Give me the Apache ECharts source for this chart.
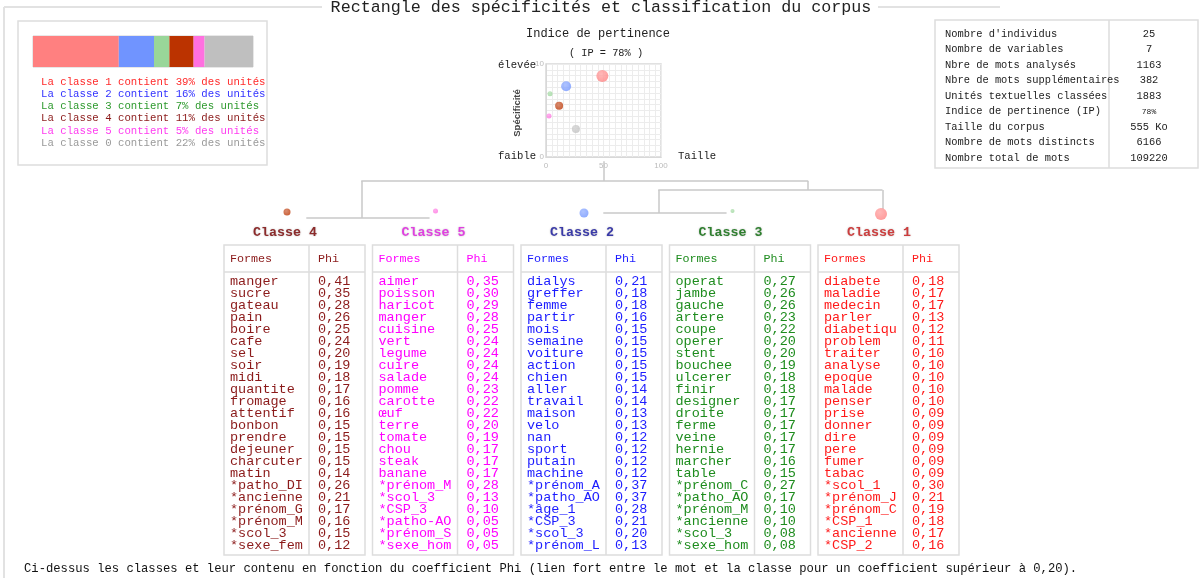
<!DOCTYPE html>
<html>
<head>
<meta charset="utf-8">
<script src="https://cdn.jsdelivr.net/npm/echarts@6/dist/echarts.min.js"></script>
<style>
  html, body { margin: 0; padding: 0; background: #fff; }
  #chart { width: 1202px; height: 578px; }
</style>
</head>
<body>
<div id="chart"></div>
<script>
const MONO = '"Liberation Mono", "Courier New", monospace';

// --- repartition des classes (barre en haut a gauche)
const barClasses = ['1', '2', '3', '4', '5', '0'];
const barPct = [39, 16, 7, 11, 5, 22];
const barColors = ['#ff8080', '#7094ff', '#99d699', '#bb3300', '#ff70e0', '#bfbfbf'];
const legendColors = ['#ff2a2a', '#3232ff', '#2e9a2e', '#8b1a1a', '#ff3cf0', '#9a9a9a'];

// --- indice de pertinence (taille / specificite)
const bubbleX = [49, 17.5, 3.5, 11.4, 2.6, 26];
const bubbleY = [8.7, 7.6, 6.8, 5.5, 4.4, 3.0];
const bubbleSize = [12, 10, 5, 8, 5, 8];
const ipValue = '78%';

// --- dendrogramme (ordre des feuilles)
const leafNames = ['Classe 4', 'Classe 5', 'Classe 2', 'Classe 3', 'Classe 1'];
const leafDotColors = ['#bb3300', '#ff70e0', '#7094ff', '#99d699', '#ff8080'];
const leafLabelColors = ['#8b2a2a', '#e040e0', '#3a3aa8', '#2f7f2f', '#cc3c3c'];
const leafTextColors = ['#8b1a1a', '#ff00ff', '#1c1cff', '#1e8c1e', '#ff1a1a'];
const leafDotSize = [7, 5, 9, 4, 12];
const leafDotLevel = [1.33, 1.5, 1.17, 1.5, 1.0];
// segments [x1, niveau1, x2, niveau2] en unites de feuille
const treeSegments = [
  [2.13, 9.8, 2.13, 6.5],
  [0.5, 6.5, 3.51, 6.5],
  [0.5, 6.5, 0.5, 0.33],
  [0.13, 0.33, 0.96, 0.33],
  [3.51, 6.5, 3.51, 5.0],
  [2.5, 5.0, 4.01, 5.0],
  [2.5, 5.0, 2.5, 1.17],
  [2.13, 1.17, 2.96, 1.17],
  [4.01, 5.0, 4.01, 1.83]
];

// --- contenu des classes (formes / phi)
const class4Words = ['manger','sucre','gateau','pain','boire','cafe','sel','soir','midi','quantite','fromage','attentif','bonbon','prendre','dejeuner','charcuter','matin','*patho_DI','*ancienne','*prénom_G','*prénom_M','*scol_3','*sexe_fem'];
const class4Phi = ['0,41','0,35','0,28','0,26','0,25','0,24','0,20','0,19','0,18','0,17','0,16','0,16','0,15','0,15','0,15','0,15','0,14','0,26','0,21','0,17','0,16','0,15','0,12'];
const class5Words = ['aimer','poisson','haricot','manger','cuisine','vert','legume','cuire','salade','pomme','carotte','œuf','terre','tomate','chou','steak','banane','*prénom_M','*scol_3','*CSP_3','*patho-AO','*prénom_S','*sexe_hom'];
const class5Phi = ['0,35','0,30','0,29','0,28','0,25','0,24','0,24','0,24','0,24','0,23','0,22','0,22','0,20','0,19','0,17','0,17','0,17','0,28','0,13','0,10','0,05','0,05','0,05'];
const class2Words = ['dialys','greffer','femme','partir','mois','semaine','voiture','action','chien','aller','travail','maison','velo','nan','sport','putain','machine','*prénom_A','*patho_AO','*âge_1','*CSP_3','*scol_3','*prénom_L'];
const class2Phi = ['0,21','0,18','0,18','0,16','0,15','0,15','0,15','0,15','0,15','0,14','0,14','0,13','0,13','0,12','0,12','0,12','0,12','0,37','0,37','0,28','0,21','0,20','0,13'];
const class3Words = ['operat','jambe','gauche','artere','coupe','operer','stent','bouchee','ulcerer','finir','designer','droite','ferme','veine','hernie','marcher','table','*prénom_C','*patho_AO','*prénom_M','*ancienne','*scol_3','*sexe_hom'];
const class3Phi = ['0,27','0,26','0,26','0,23','0,22','0,20','0,20','0,19','0,18','0,18','0,17','0,17','0,17','0,17','0,17','0,16','0,15','0,27','0,17','0,10','0,10','0,08','0,08'];
const class1Words = ['diabete','maladie','medecin','parler','diabetiqu','problem','traiter','analyse','epoque','malade','penser','prise','donner','dire','pere','fumer','tabac','*scol_1','*prénom_J','*prénom_C','*CSP_1','*ancienne','*CSP_2'];
const class1Phi = ['0,18','0,17','0,17','0,13','0,12','0,11','0,10','0,10','0,10','0,10','0,10','0,09','0,09','0,09','0,09','0,09','0,09','0,30','0,21','0,19','0,18','0,17','0,16'];
const tableWords = [class4Words, class5Words, class2Words, class3Words, class1Words];
const tablePhi = [class4Phi, class5Phi, class2Phi, class3Phi, class1Phi];

// --- informations sur le corpus
const infoLabels = ["Nombre d'individus", 'Nombre de variables', 'Nbre de mots analysés', 'Nbre de mots supplémentaires', 'Unités textuelles classées', 'Indice de pertinence (IP)', 'Taille du corpus', 'Nombre de mots distincts', 'Nombre total de mots'];
const infoValues = ['25', '7', '1163', '382', '1883', '78%', '555 Ko', '6166', '109220'];

const titleText = 'Rectangle des spécificités et classification du corpus';
const footText = 'Ci-dessus les classes et leur contenu en fonction du coefficient Phi (lien fort entre le mot et la classe pour un coefficient supérieur à 0,20).';

const leafX0 = 287, leafStep = 148.5;
const leafX = k => leafX0 + k * leafStep;

function txt(x, y, text, size, fill, align, extra) {
  const st = Object.assign({
    text: text,
    font: size + 'px ' + MONO,
    fill: fill,
    align: align || 'left', textAlign: align || 'left',
    verticalAlign: 'middle', textVerticalAlign: 'middle'
  }, extra || {});
  return { type: 'text', x: x, y: y, silent: true, style: st };
}
function line(x1, y1, x2, y2, color, w) {
  return { type: 'line', silent: true, shape: { x1, y1, x2, y2 }, style: { stroke: color || '#ddd', lineWidth: w || 1.5 } };
}
function box(x, y, w, h, color) {
  return { type: 'rect', silent: true, shape: { x, y, width: w, height: h }, style: { fill: 'none', stroke: color || '#ddd', lineWidth: 1.5 } };
}
function ball(c) {
  return {
    type: 'radial', x: 0.4, y: 0.35, r: 0.75,
    colorStops: [{ offset: 0, color: echarts.color.lift(c, 0.3) }, { offset: 1, color: c }]
  };
}

const graphics = [];
// cadre et titre
graphics.push(line(4, 7, 322, 7, '#e2e2e2', 2));
graphics.push(line(878, 7, 1000, 7, '#e2e2e2', 2));
graphics.push(line(4, 7, 4, 578, '#e2e2e2', 2));
graphics.push(txt(601, 8, titleText, 16.7, '#222', 'center'));

// boite en haut a gauche
graphics.push(box(18, 21, 249, 144));
barClasses.forEach((c, i) => {
  graphics.push(txt(41, 82 + i * 12.2, 'La classe ' + c + ' contient ' + barPct[i] + '% des unités', 10.7, legendColors[i], 'left'));
});

// textes autour du nuage
graphics.push(txt(598, 34, 'Indice de pertinence', 12, '#222', 'center'));
graphics.push(txt(606, 53, '( IP = ' + ipValue + ' )', 10.3, '#222', 'center'));
graphics.push(txt(498, 65, 'élevée', 10.6, '#222', 'left'));
graphics.push(txt(498, 156, 'faible', 10.6, '#222', 'left'));
graphics.push(txt(678, 156, 'Taille', 10.6, '#222', 'left'));
graphics.push({
  type: 'text', x: 517, y: 113, rotation: Math.PI / 2, silent: true,
  style: { text: 'Spécificité', font: 'bold 9.5px "Liberation Sans", sans-serif', fill: '#444',
    align: 'center', textAlign: 'center', verticalAlign: 'middle', textVerticalAlign: 'middle' }
});

// boite d'informations
graphics.push(box(935, 20, 263, 148));
graphics.push(line(1109, 20, 1109, 168));
infoLabels.forEach((lab, i) => {
  const y = 34 + i * 15.5;
  graphics.push(txt(945, y, lab, 10.4, '#222', 'left'));
  graphics.push(txt(1149, y, infoValues[i], infoValues[i].indexOf('%') >= 0 ? 8 : 10.4, '#222', 'center'));
});

// etiquettes de classe et tableaux
leafNames.forEach((name, k) => {
  const cx = leafX(k);
  graphics.push(txt(cx - 2, 233, name, 13.3, leafLabelColors[k], 'center', {
    font: 'bold 13.3px ' + MONO,
    textShadowColor: 'rgba(0,0,0,0.25)', textShadowBlur: 2
  }));
  const left = cx - 63;
  graphics.push(box(left, 245, 141, 310));
  graphics.push(line(left, 272, left + 141, 272));
  graphics.push(line(left + 85, 245, left + 85, 555));
  graphics.push(txt(left + 6, 259, 'Formes', 11.7, leafTextColors[k], 'left'));
  graphics.push(txt(left + 94, 259, 'Phi', 11.7, leafTextColors[k], 'left'));
  tableWords[k].forEach((w, r) => {
    const y = 281 + r * 12;
    graphics.push(txt(left + 6, y, w, 13.5, leafTextColors[k], 'left'));
    graphics.push(txt(left + 94, y, tablePhi[k][r], 13.5, leafTextColors[k], 'left'));
  });
});

graphics.push(txt(24, 569, footText, 12.2, '#111', 'left'));

const chart = echarts.init(document.getElementById('chart'), null, { renderer: 'canvas' });

const option = {
  backgroundColor: '#fff',
  animation: false,
  grid: [
    { left: 33, top: 36, width: 220, height: 31, show: true, borderColor: '#d0d0d0', borderWidth: 1, backgroundColor: 'transparent' },
    { left: 546, top: 64, width: 115, height: 93, show: true, borderColor: '#d8d8d8', borderWidth: 1.5, backgroundColor: 'transparent' },
    { left: leafX0 - leafStep / 2, top: 160, width: leafStep * 5, height: 60 }
  ],
  xAxis: [
    { gridIndex: 0, type: 'value', min: 0, max: 100, show: false },
    {
      gridIndex: 1, type: 'value', min: 0, max: 100, interval: 5,
      axisLine: { lineStyle: { color: '#d8d8d8' } }, axisTick: { show: false },
      splitLine: { lineStyle: { color: '#ececec' } },
      axisLabel: { fontSize: 8, color: '#bbb', margin: 5, formatter: v => (v % 50 === 0 ? String(v) : '') }
    },
    { gridIndex: 2, type: 'value', min: -0.5, max: 4.5, show: false }
  ],
  yAxis: [
    { gridIndex: 0, type: 'category', data: ['corpus'], show: false },
    {
      gridIndex: 1, type: 'value', min: 0, max: 10, interval: 0.625,
      axisLine: { show: true, lineStyle: { color: '#d8d8d8' } }, axisTick: { show: false },
      splitLine: { lineStyle: { color: '#ececec' } },
      axisLabel: { fontSize: 8, color: '#bbb', margin: 2, formatter: v => (v === 0 || v === 10 ? String(v) : '') }
    },
    { gridIndex: 2, type: 'value', min: 0, max: 10, show: false }
  ],
  series: [
    ...barClasses.map((c, i) => ({
      type: 'bar', name: 'classe ' + c, stack: 'corpus', xAxisIndex: 0, yAxisIndex: 0,
      barWidth: '100%', silent: true, data: [barPct[i]],
      itemStyle: { color: barColors[i] }
    })),
    {
      type: 'scatter', xAxisIndex: 1, yAxisIndex: 1, silent: true,
      data: bubbleX.map((x, i) => ({
        value: [x, bubbleY[i]], symbolSize: bubbleSize[i],
        itemStyle: { color: ball(barColors[i]) }
      }))
    },
    {
      type: 'lines', coordinateSystem: 'cartesian2d', xAxisIndex: 2, yAxisIndex: 2, silent: true,
      lineStyle: { color: '#c8c8c8', width: 1.5, opacity: 1 },
      data: treeSegments.map(s => ({ coords: [[s[0], s[1]], [s[2], s[3]]] }))
    },
    {
      type: 'scatter', xAxisIndex: 2, yAxisIndex: 2, silent: true,
      data: leafNames.map((n, k) => ({
        value: [k, leafDotLevel[k]], symbolSize: leafDotSize[k],
        itemStyle: { color: ball(leafDotColors[k]) }
      }))
    }
  ],
  graphic: { elements: graphics }
};
chart.setOption(option);
</script>
</body>
</html>
